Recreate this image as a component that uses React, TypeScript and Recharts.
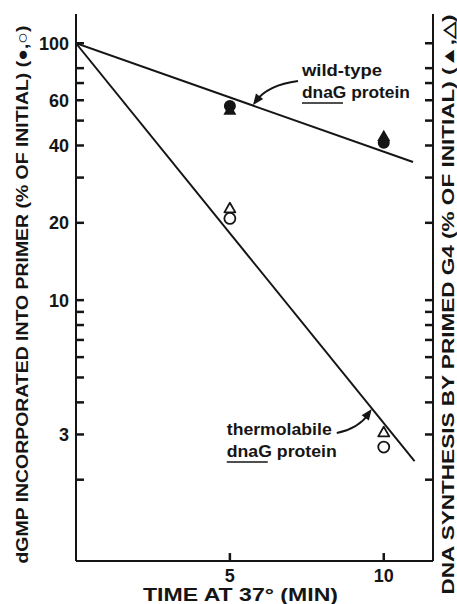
import { ComposedChart, Line, Scatter, XAxis, YAxis, ReferenceDot, ReferenceLine, Label } from 'recharts'

const INK = '#151515'
const FONT = '"Liberation Sans", Arial, sans-serif'

// time points (min) and measured values (% of initial)
const TIMES = [5, 10]
const WT_CIRCLE = [57, 41]
const WT_TRIANGLE = [55, 43.5]
const TL_CIRCLE = [20.8, 2.68]
const TL_TRIANGLE = [22.8, 3.06]

// fitted lines, end points
const WT_FIT_T = [0, 10.95]
const WT_FIT_V = [100, 34.5]
const TL_FIT_T = [0, 11]
const TL_FIT_V = [100, 2.36]

const Y_TICKS = [100, 80, 70, 60, 50, 40, 30, 20, 10, 9, 8, 7, 6, 5, 4, 3, 2]
const Y_LABELED = [100, 60, 40, 20, 10, 3]
const X_TICKS = [5, 10]
const Y_DOMAIN = [0.965, 130]
const X_DOMAIN = [0, 11.6]

// inward tick length, in data units (about 8px on each axis)
const TICK_T = 0.26
const TICK_V = 1.074

const toPoints = (ts: number[], vs: number[]) => ts.map((t, i) => ({ t, v: vs[i] }))

const symbol = (kind: 'circle' | 'triangle', filled: boolean) => (p: any) => {
  const { cx, cy } = p
  const fill = filled ? INK : '#fff'
  const sw = filled ? 0 : 1.8
  if (kind === 'circle') {
    return <circle cx={cx} cy={cy} r={filled ? 6 : 5.5} fill={fill} stroke={INK} strokeWidth={sw} />
  }
  const s = filled ? 6.5 : 5.5
  return (
    <polygon
      points={`${cx},${cy - s} ${cx - s},${cy + s * 0.75} ${cx + s},${cy + s * 0.75}`}
      fill={fill}
      stroke={INK}
      strokeWidth={sw}
      strokeLinejoin="round"
    />
  )
}

function LeftTick(props: any) {
  const { x, y, payload } = props
  const v = payload.value
  if (!Y_LABELED.includes(v)) return <g />
  return (
    <text x={x - 7} y={y + 6.5} textAnchor="end" fontSize={18} fontWeight="bold" fontFamily={FONT} fill={INK}>
      {v}
    </text>
  )
}

function BottomTick(props: any) {
  const { x, y, payload } = props
  return (
    <text x={x} y={y + 21} textAnchor="middle" fontSize={18} fontWeight="bold" fontFamily={FONT} fill={INK}>
      {payload.value}
    </text>
  )
}

function arrowHead(tx: number, ty: number, dx: number, dy: number) {
  const len = Math.hypot(dx, dy)
  const ux = dx / len
  const uy = dy / len
  const bx = tx - ux * 11
  const by = ty - uy * 11
  return `${tx},${ty} ${bx - uy * 4.5},${by + ux * 4.5} ${bx + uy * 4.5},${by - ux * 4.5}`
}

const txt = { fontSize: 16, fontWeight: 'bold' as const, fontFamily: FONT, fill: INK }

function WildNote(p: any) {
  const { cx, cy } = p
  return (
    <g>
      <path d={`M${cx + 45},${cy - 24} Q${cx + 15},${cy - 20} ${cx + 3},${cy - 4}`} fill="none" stroke={INK} strokeWidth={2} />
      <polygon points={arrowHead(cx, cy, -12, 16)} fill={INK} />
      <text x={cx + 49} y={cy - 29} textLength={80} lengthAdjust="spacingAndGlyphs" {...txt}>wild-type</text>
      <text x={cx + 49} y={cy - 7} textLength={108} lengthAdjust="spacingAndGlyphs" {...txt}>dnaG protein</text>
      <path d={`M${cx + 49},${cy - 2}H${cx + 90}`} stroke={INK} strokeWidth={1.6} />
    </g>
  )
}

function ThermoNote(p: any) {
  const { cx, cy } = p
  return (
    <g>
      <path d={`M${cx - 35},${cy + 24} Q${cx - 14},${cy + 20} ${cx - 3},${cy + 5}`} fill="none" stroke={INK} strokeWidth={2} />
      <polygon points={arrowHead(cx, cy, 11, -15)} fill={INK} />
      <text x={cx - 145} y={cy + 26} textLength={105} lengthAdjust="spacingAndGlyphs" {...txt}>thermolabile</text>
      <text x={cx - 145} y={cy + 48} textLength={110} lengthAdjust="spacingAndGlyphs" {...txt}>dnaG protein</text>
      <path d={`M${cx - 145},${cy + 53}H${cx - 104}`} stroke={INK} strokeWidth={1.6} />
    </g>
  )
}

const titleStyle = { fontSize: 17, fontWeight: 'bold' as const, fontFamily: FONT, fill: INK }

const LeftTitle = (p: any) => {
  const vb = p.viewBox
  const cx = vb.x + 22
  const cy = vb.y + vb.height / 2 + 7
  return (
    <text x={cx} y={cy} transform={`rotate(-90 ${cx} ${cy})`} textAnchor="middle" dominantBaseline="central" textLength={538} lengthAdjust="spacingAndGlyphs" {...titleStyle}>
      dGMP INCORPORATED INTO PRIMER (% OF INITIAL) (●,○)
    </text>
  )
}

const RightTitle = (p: any) => {
  const vb = p.viewBox
  const cx = vb.x + 15
  const cy = vb.y + vb.height / 2 + 17
  return (
    <text x={cx} y={cy} transform={`rotate(-90 ${cx} ${cy})`} textAnchor="middle" dominantBaseline="central" textLength={580} lengthAdjust="spacingAndGlyphs" {...titleStyle} fontSize={16}>
      DNA SYNTHESIS BY PRIMED G4 (% OF INITIAL) (▲,△)
    </text>
  )
}

const BottomTitle = (p: any) => {
  const vb = p.viewBox
  const cx = vb.x + vb.width / 2 - 14
  return (
    <text x={cx} y={vb.y + 40} textAnchor="middle" textLength={195} lengthAdjust="spacingAndGlyphs" {...titleStyle} fontSize={18}>
      TIME AT 37° (MIN)
    </text>
  )
}

export default function App() {
  const axisLine = { stroke: INK, strokeWidth: 2 }
  const tickStyle = { stroke: INK, strokeWidth: 2.5, ifOverflow: 'visible' as const }
  return (
    <div style={{ position: 'absolute', left: 0, top: 0, background: '#fff' }}>
      <ComposedChart width={457} height={604} margin={{ top: 14, right: 0, bottom: 0, left: 0 }}>
        <XAxis
          dataKey="t"
          type="number"
          domain={X_DOMAIN}
          allowDataOverflow
          ticks={X_TICKS}
          interval={0}
          tick={<BottomTick />}
          tickLine={false}
          tickSize={0}
          tickMargin={0}
          axisLine={axisLine}
          height={43}
        >
          <Label content={<BottomTitle />} />
        </XAxis>
        <XAxis xAxisId="top" orientation="top" type="number" domain={X_DOMAIN} height={0} tick={false} tickLine={false} axisLine={axisLine} />
        <YAxis
          yAxisId="left"
          type="number"
          scale="log"
          domain={Y_DOMAIN}
          allowDataOverflow
          ticks={Y_TICKS}
          interval={0}
          tick={<LeftTick />}
          tickLine={false}
          tickSize={0}
          tickMargin={0}
          axisLine={axisLine}
          width={76}
        >
          <Label content={<LeftTitle />} />
        </YAxis>
        <YAxis
          yAxisId="right"
          orientation="right"
          type="number"
          scale="log"
          domain={Y_DOMAIN}
          allowDataOverflow
          ticks={Y_TICKS}
          interval={0}
          tick={false}
          tickLine={false}
          axisLine={axisLine}
          width={24}
        >
          <Label content={<RightTitle />} />
        </YAxis>
        <Line yAxisId="left" data={toPoints(WT_FIT_T, WT_FIT_V)} dataKey="v" stroke={INK} strokeWidth={2} dot={false} isAnimationActive={false} />
        <Line yAxisId="left" data={toPoints(TL_FIT_T, TL_FIT_V)} dataKey="v" stroke={INK} strokeWidth={2} dot={false} isAnimationActive={false} />
        <Scatter yAxisId="left" data={toPoints(TIMES, WT_TRIANGLE)} dataKey="v" shape={symbol('triangle', true)} isAnimationActive={false} />
        <Scatter yAxisId="left" data={toPoints(TIMES, WT_CIRCLE)} dataKey="v" shape={symbol('circle', true)} isAnimationActive={false} />
        <Scatter yAxisId="left" data={toPoints(TIMES, TL_TRIANGLE)} dataKey="v" shape={symbol('triangle', false)} isAnimationActive={false} />
        <Scatter yAxisId="left" data={toPoints(TIMES, TL_CIRCLE)} dataKey="v" shape={symbol('circle', false)} isAnimationActive={false} />
        <ReferenceDot yAxisId="left" x={5.75} y={57.5} shape={<WildNote />} ifOverflow="visible" />
        <ReferenceDot yAxisId="left" x={9.61} y={3.77} shape={<ThermoNote />} ifOverflow="visible" />
        {Y_TICKS.map((v) => (
          <ReferenceLine key={`l${v}`} yAxisId="left" segment={[{ x: X_DOMAIN[0], y: v }, { x: X_DOMAIN[0] + TICK_T, y: v }]} {...tickStyle} />
        ))}
        {Y_TICKS.map((v) => (
          <ReferenceLine key={`r${v}`} yAxisId="left" segment={[{ x: X_DOMAIN[1] - TICK_T, y: v }, { x: X_DOMAIN[1], y: v }]} {...tickStyle} />
        ))}
        {X_TICKS.map((t) => (
          <ReferenceLine key={`b${t}`} yAxisId="left" segment={[{ x: t, y: Y_DOMAIN[0] }, { x: t, y: Y_DOMAIN[0] * TICK_V }]} {...tickStyle} />
        ))}
      </ComposedChart>
    </div>
  )
}
